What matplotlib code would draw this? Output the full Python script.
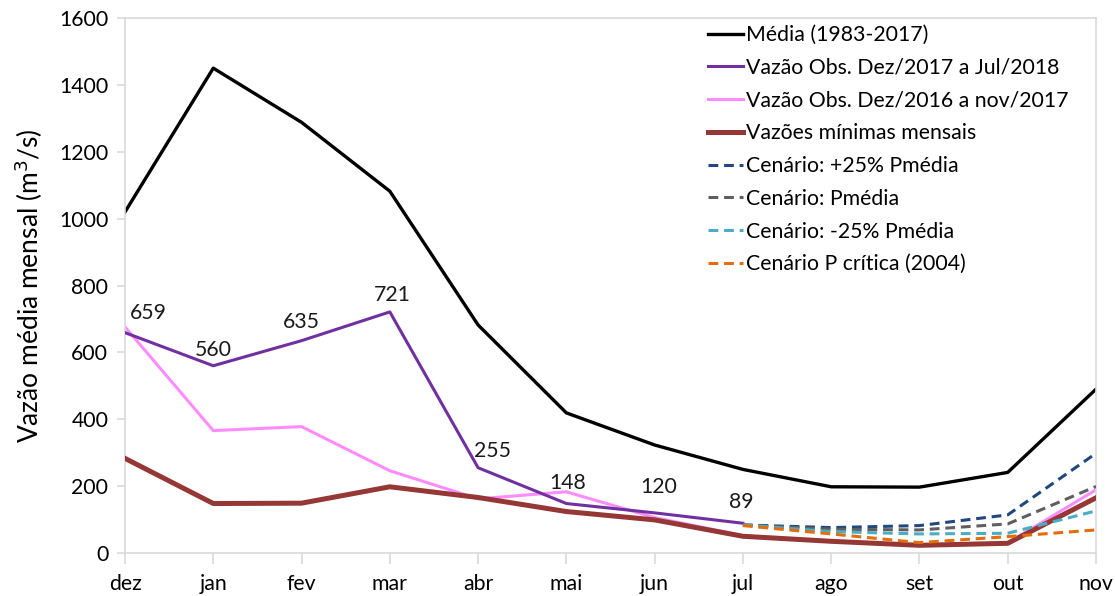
import numpy as np
import matplotlib
matplotlib.use('Agg')
import matplotlib.pyplot as plt

plt.rcParams['font.family'] = ['Lato', 'DejaVu Sans']

MONTHS = ['dez', 'jan', 'fev', 'mar', 'abr', 'mai', 'jun', 'jul', 'ago', 'set', 'out', 'nov']

media = [1020, 1450, 1288, 1082, 682, 419, 323, 250, 198, 197, 241, 490]
obs_2018 = [659, 560, 635, 721, 255, 148, 120, 89]
obs_2017 = [676, 366, 378, 246, 162, 183, 106, 52, 34, 23, 30, 189]
minimas = [283, 148, 149, 198, 166, 124, 99, 50, 35, 23, 29, 165]

# scenarios start at jul
cen_p25 = [84, 76, 82, 114, 298]
cen_pmed = [84, 71, 69, 87, 199]
cen_m25 = [84, 64, 57, 59, 126]
cen_crit = [82, 57, 31, 49, 69]

# label offsets (pixels) for the observed-series values
label_offsets = [(23, 20), (0, 16), (0, 19), (2, 17), (14, 17), (1, 21), (4, 26), (-2, 21)]

x = np.arange(len(MONTHS))
xs = x[7:]

fig = plt.figure(figsize=(11.15, 5.96), dpi=100)
ax = fig.add_axes([125/1115, 1 - 553/596, (1096 - 125)/1115, (553 - 18)/596])

ax.plot(x, media, color='black', lw=2.4, label='Média (1983-2017)')
ax.plot(x[:len(obs_2018)], obs_2018, color='#7030A0', lw=2.2, label='Vazão Obs. Dez/2017 a Jul/2018', zorder=4)
ax.plot(x, obs_2017, color='#FF8CFF', lw=2.2, label='Vazão Obs. Dez/2016 a nov/2017', zorder=2)
ax.plot(x, minimas, color='#953735', lw=3.6, label='Vazões mínimas mensais', zorder=3)
dash = (0, (3.2, 1.9))
ax.plot(xs, cen_p25, color='#1F497D', lw=2.2, ls=dash, label='Cenário: +25% Pmédia', zorder=5)
ax.plot(xs, cen_pmed, color='#5F5F5F', lw=2.2, ls=dash, label='Cenário: Pmédia', zorder=5)
ax.plot(xs, cen_m25, color='#4BACC6', lw=2.2, ls=dash, label='Cenário: -25% Pmédia', zorder=5)
ax.plot(xs, cen_crit, color='#E46C0A', lw=2.2, ls=dash, label='Cenário P crítica (2004)', zorder=5)

for i, v in enumerate(obs_2018):
    ax.annotate(str(v), (x[i], v), xytext=label_offsets[i], textcoords='offset pixels',
                ha='center', va='center', fontsize=15.3, color='#1a1a1a')

ax.set_xlim(0, 11)
ax.set_ylim(0, 1600)
ax.set_yticks(range(0, 1601, 200))
ax.set_xticks(x)
ax.set_xticklabels(MONTHS)
ax.tick_params(labelsize=15.3, color='#d9d9d9', length=6, width=1.2, pad=6)
ax.tick_params(axis='x', length=8, pad=7)
for s in ax.spines.values():
    s.set_color('#d9d9d9')
    s.set_linewidth(1.2)
ax.set_ylabel('Vazão média mensal (m$^3$/s)', fontsize=19, labelpad=10)

ax.legend(loc='upper left', bbox_to_anchor=(708/1115, 1 - 25/596), bbox_transform=fig.transFigure,
          frameon=False, fontsize=15.3, handlelength=1.65, handletextpad=0.15, labelspacing=0.6,
          borderaxespad=0, borderpad=0)

fig.savefig('out.png', dpi=100)
